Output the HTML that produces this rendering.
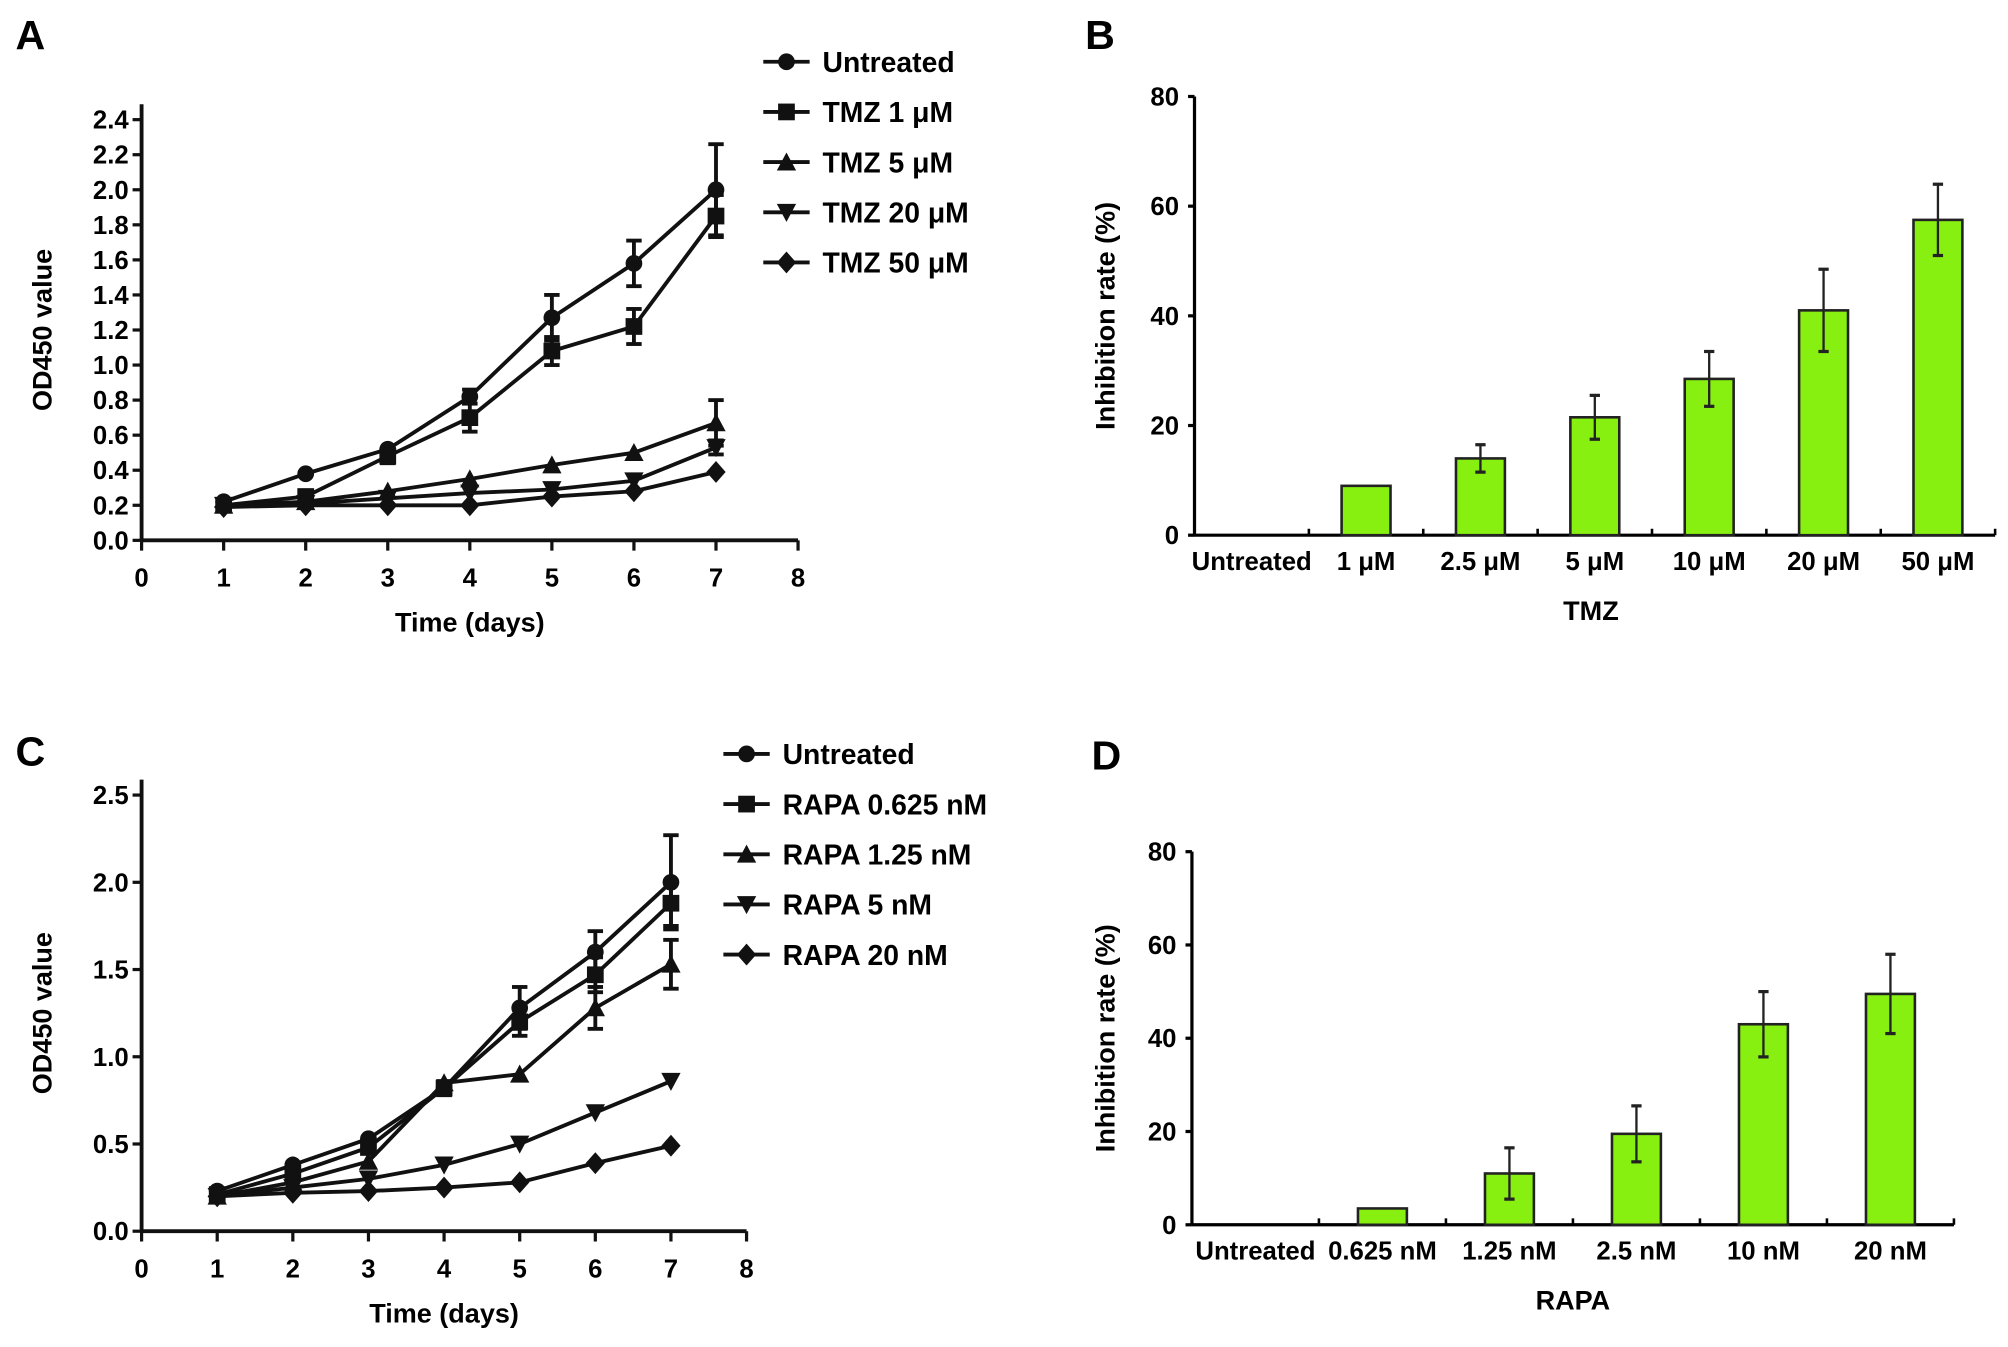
<!DOCTYPE html>
<html><head><meta charset="utf-8"><style>
html,body{margin:0;padding:0;background:#fff}
svg{display:block}
text{font-family:"Liberation Sans",Arial,sans-serif;fill:#000}
.tk{font-weight:600}
</style></head><body>
<svg id="fig" width="2008" height="1347" viewBox="0 0 1560 1047" preserveAspectRatio="none" xmlns="http://www.w3.org/2000/svg"></svg>
<script>
const days=[1,2,3,4,5,6,7];
const aLabels=["Untreated","TMZ 1 \u03bcM","TMZ 5 \u03bcM","TMZ 20 \u03bcM","TMZ 50 \u03bcM"];
const aUntreated=[0.22,0.38,0.52,0.82,1.27,1.58,2.0];
const aUntreatedErr=[0.02,0.02,0.03,0.04,0.13,0.13,0.26];
const aTmz1=[0.2,0.25,0.48,0.7,1.08,1.22,1.85];
const aTmz1Err=[0.02,0.03,0.04,0.08,0.08,0.1,0.12];
const aTmz5=[0.2,0.22,0.28,0.35,0.43,0.5,0.67];
const aTmz5Err=[0.01,0.01,0.02,0.02,0.02,0.02,0.13];
const aTmz20=[0.2,0.21,0.24,0.27,0.29,0.34,0.53];
const aTmz20Err=[0.01,0.01,0.01,0.01,0.02,0.02,0.04];
const aTmz50=[0.19,0.2,0.2,0.2,0.25,0.28,0.39];
const aTmz50Err=[0.01,0.01,0.01,0.01,0.01,0.02,0.02];
const aYTicks=[0,0.2,0.4,0.6,0.8,1.0,1.2,1.4,1.6,1.8,2.0,2.2,2.4];
const xTicks=[0,1,2,3,4,5,6,7,8];
const cLabels=["Untreated","RAPA 0.625 nM","RAPA  1.25 nM","RAPA 5 nM","RAPA 20 nM"];
const cUntreated=[0.23,0.38,0.53,0.82,1.28,1.6,2.0];
const cUntreatedErr=[0.02,0.02,0.03,0.04,0.12,0.12,0.27];
const cR0625=[0.21,0.33,0.48,0.82,1.2,1.47,1.88];
const cR0625Err=[0.02,0.02,0.03,0.04,0.08,0.1,0.13];
const cR125=[0.2,0.28,0.4,0.85,0.9,1.28,1.53];
const cR125Err=[0.01,0.02,0.03,0.03,0.02,0.12,0.14];
const cR5=[0.2,0.25,0.3,0.38,0.5,0.68,0.86];
const cR5Err=[0.01,0.01,0.01,0.01,0.02,0.02,0.03];
const cR20=[0.2,0.22,0.23,0.25,0.28,0.39,0.49];
const cR20Err=[0.01,0.01,0.01,0.01,0.01,0.02,0.02];
const cYTicks=[0,0.5,1.0,1.5,2.0,2.5];
const bCats=["Untreated","1 \u03bcM","2.5 \u03bcM","5 \u03bcM","10 \u03bcM","20 \u03bcM","50 \u03bcM"];
const bVals=[0,9,14,21.5,28.5,41,57.5];
const bErr=[0,0,2.5,4,5,7.5,6.5];
const dCats=["Untreated","0.625 nM","1.25 nM","2.5 nM","10 nM","20 nM"];
const dVals=[0,3.5,11,19.5,43,49.5];
const dErr=[0,0,5.5,6,7,8.5];
const barYTicks=[0,20,40,60,80];

const NS="http://www.w3.org/2000/svg";
const svg=document.getElementById('fig');
function mk(tag,attrs,parent,txt){const e=document.createElementNS(NS,tag);for(const k in attrs)e.setAttribute(k,attrs[k]);if(txt!==undefined)e.textContent=txt;(parent||svg).appendChild(e);return e;}
function marker(g,shape,x,y){
  const s=6.5;let e;
  if(shape==='circle')e=mk('circle',{cx:x,cy:y,r:s,fill:'#111'},g);
  else if(shape==='square')e=mk('rect',{x:x-s,y:y-s,width:2*s,height:2*s,fill:'#111'},g);
  else if(shape==='tri')e=mk('polygon',{points:`${x},${y-s-1} ${x-s-1},${y+s} ${x+s+1},${y+s}`,fill:'#111'},g);
  else if(shape==='itri')e=mk('polygon',{points:`${x},${y+s+1} ${x-s-1},${y-s} ${x+s+1},${y-s}`,fill:'#111'},g);
  else e=mk('polygon',{points:`${x},${y-s-2} ${x+s+1},${y} ${x},${y+s+2} ${x-s-1},${y}`,fill:'#111'},g);
  
  
}
const shapes=['circle','square','tri','itri','diamond'];

function lineChart(cfg){
  const g=mk('g',{});
  const X=v=>cfg.x0+(cfg.x1-cfg.x0)*v/8;
  const Y=v=>cfg.y0-(cfg.y0-cfg.y1)*v/cfg.ymax;
  mk('line',{x1:cfg.x0,y1:cfg.y0,x2:cfg.x0,y2:cfg.y1-12,stroke:'#111','stroke-width':3,},g);
  mk('line',{x1:cfg.x0,y1:cfg.y0,x2:cfg.x1,y2:cfg.y0,stroke:'#111','stroke-width':3,},g);
  cfg.yticks.forEach(t=>{
    mk('line',{x1:cfg.x0-7,y1:Y(t),x2:cfg.x0,y2:Y(t),stroke:'#111','stroke-width':2.5,},g);
    mk('text',{class:'tk',x:cfg.x0-10,y:Y(t)+7,'text-anchor':'end','font-size':20,},g,t.toFixed(1));
  });
  xTicks.forEach(t=>{
    mk('line',{x1:X(t),y1:cfg.y0,x2:X(t),y2:cfg.y0+8,stroke:'#111','stroke-width':2.5,},g);
    mk('text',{class:'tk',x:X(t),y:cfg.y0+36,'text-anchor':'middle','font-size':20,},g,String(t));
  });
  mk('text',{class:'tk',x:(cfg.x0+cfg.x1)/2,y:cfg.y0+71,'text-anchor':'middle','font-size':21,},g,'Time (days)');
  const cy=(cfg.y0+cfg.y1)/2;
  mk('text',{class:'tk',x:40,y:cy,transform:`rotate(-90 40 ${cy})`,'text-anchor':'middle','font-size':21,},g,'OD450 value');
  cfg.series.forEach((s,i)=>{
    const sg=mk('g',{},g);
    mk('polyline',{points:days.map((d,j)=>X(d)+','+Y(s.v[j])).join(' '),fill:'none',stroke:'#111','stroke-width':3,},sg);
    days.forEach((d,j)=>{
      const e=s.e[j];
      if(e>0.03){
        mk('line',{x1:X(d),y1:Y(s.v[j]-e),x2:X(d),y2:Y(s.v[j]+e),stroke:'#111','stroke-width':3,},sg);
        mk('line',{x1:X(d)-6,y1:Y(s.v[j]+e),x2:X(d)+6,y2:Y(s.v[j]+e),stroke:'#111','stroke-width':3,},sg);
        mk('line',{x1:X(d)-6,y1:Y(s.v[j]-e),x2:X(d)+6,y2:Y(s.v[j]-e),stroke:'#111','stroke-width':3,},sg);
      }
      marker(sg,shapes[i],X(d),Y(s.v[j]));
    });
  });
  cfg.labels.forEach((l,i)=>{
    const lg=mk('g',{},g);
    const ly=cfg.ly+i*39;
    mk('line',{x1:cfg.lx,y1:ly,x2:cfg.lx+36,y2:ly,stroke:'#111','stroke-width':3},lg);
    marker(lg,shapes[i],cfg.lx+18,ly);
    mk('text',{class:'tk',x:cfg.lx+46,y:ly+8,'font-size':22},lg,l);
  });
}
lineChart({name:'panel-a-chart',x0:110,x1:620,y0:420,y1:93,ymax:2.4,yticks:aYTicks,labels:aLabels,lx:593,ly:48,
  series:[{v:aUntreated,e:aUntreatedErr},{v:aTmz1,e:aTmz1Err},{v:aTmz5,e:aTmz5Err},{v:aTmz20,e:aTmz20Err},{v:aTmz50,e:aTmz50Err}]});
lineChart({name:'panel-c-chart',x0:110,x1:580,y0:957,y1:618,ymax:2.5,yticks:cYTicks,labels:cLabels,lx:562,ly:586,
  series:[{v:cUntreated,e:cUntreatedErr},{v:cR0625,e:cR0625Err},{v:cR125,e:cR125Err},{v:cR5,e:cR5Err},{v:cR20,e:cR20Err}]});

function barChart(cfg){
  const g=mk('g',{});
  const n=cfg.cats.length, w=(cfg.x1-cfg.x0)/n;
  const Y=v=>cfg.y0-(cfg.y0-cfg.y1)*v/80;
  mk('line',{x1:cfg.x0,y1:cfg.y0,x2:cfg.x0,y2:cfg.y1,stroke:'#000','stroke-width':2.5,},g);
  mk('line',{x1:cfg.x0,y1:cfg.y0,x2:cfg.x1,y2:cfg.y0,stroke:'#000','stroke-width':2.5,},g);
  barYTicks.forEach(t=>{
    mk('line',{x1:cfg.x0-5,y1:Y(t),x2:cfg.x0,y2:Y(t),stroke:'#000','stroke-width':2.5,},g);
    mk('text',{class:'tk',x:cfg.x0-12,y:Y(t)+7,'text-anchor':'end','font-size':20,},g,String(t));
  });
  for(let i=1;i<=n;i++)mk('line',{x1:cfg.x0+i*w,y1:cfg.y0,x2:cfg.x0+i*w,y2:cfg.y0-5,stroke:'#000','stroke-width':2,},g);
  cfg.cats.forEach((c,i)=>{
    const cx=cfg.x0+w*(i+0.5);
    mk('text',{class:'tk',x:cx,y:cfg.y0+27,'text-anchor':'middle','font-size':20,},g,c);
    const v=cfg.vals[i];
    if(v>0){
      mk('rect',{x:cx-cfg.bw/2,y:Y(v),width:cfg.bw,height:Y(0)-Y(v),fill:'#88f010',stroke:'#222','stroke-width':2,},g);
    }
    const e=cfg.err[i];
    if(e>0){
      mk('line',{x1:cx,y1:Y(v-e),x2:cx,y2:Y(v+e),stroke:'#222','stroke-width':1.8,},g);
      mk('line',{x1:cx-4,y1:Y(v+e),x2:cx+4,y2:Y(v+e),stroke:'#222','stroke-width':2.5,},g);
      mk('line',{x1:cx-4,y1:Y(v-e),x2:cx+4,y2:Y(v-e),stroke:'#222','stroke-width':2.5,},g);
    }
  });
  const cy=(cfg.y0+cfg.y1)/2;
  mk('text',{class:'tk',x:866,y:cy,transform:`rotate(-90 866 ${cy})`,'text-anchor':'middle','font-size':21,},g,'Inhibition rate (%)');
  mk('text',{class:'tk',x:cfg.tx,y:cfg.y0+66,'text-anchor':'middle','font-size':21,},g,cfg.title);
}
barChart({name:'panel-b-chart',x0:928,x1:1550,y0:416,y1:75,cats:bCats,vals:bVals,err:bErr,bw:38,title:'TMZ',tx:1236});
barChart({name:'panel-d-chart',x0:926,x1:1518,y0:952,y1:662,cats:dCats,vals:dVals,err:dErr,bw:38,title:'RAPA',tx:1222});

[['A',12,38],['B',843,38],['C',12,595],['D',848,598]].forEach(p=>{
  const t=mk('text',{x:p[1],y:p[2],'font-size':32,'font-weight':'bold'},svg,p[0]);
  
  
});
</script>
</body></html>
